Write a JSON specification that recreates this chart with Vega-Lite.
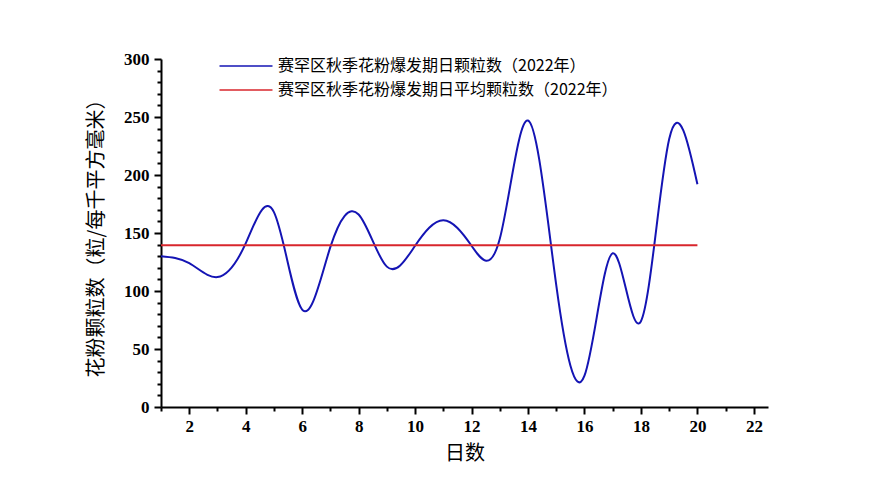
{
  "$schema": "https://vega.github.io/schema/vega-lite/v6.json",
  "autosize": "none",
  "width": 607,
  "height": 348,
  "padding": {"left": 161, "top": 59, "right": 125, "bottom": 83},
  "background": "white",
  "config": {
    "view": {"stroke": null},
    "axis": {
      "domainColor": "black", "domainWidth": 2,
      "tickColor": "black", "tickWidth": 2, "tickSize": 7,
      "grid": false,
      "labelFont": "Liberation Serif", "labelFontWeight": "bold", "labelFontSize": 17, "labelColor": "black",
      "titleFont": "Noto Sans CJK SC", "titleFontWeight": "normal", "titleFontSize": 20, "titleColor": "black",
      "labelFlush": false
    }
  },
  "data": {
    "values": [
      {"day": 1, "value": 130, "series": "赛罕区秋季花粉爆发期日颗粒数（2022年）"},
      {"day": 2, "value": 124, "series": "赛罕区秋季花粉爆发期日颗粒数（2022年）"},
      {"day": 3, "value": 112, "series": "赛罕区秋季花粉爆发期日颗粒数（2022年）"},
      {"day": 4, "value": 141, "series": "赛罕区秋季花粉爆发期日颗粒数（2022年）"},
      {"day": 5, "value": 168, "series": "赛罕区秋季花粉爆发期日颗粒数（2022年）"},
      {"day": 6, "value": 84, "series": "赛罕区秋季花粉爆发期日颗粒数（2022年）"},
      {"day": 7, "value": 138, "series": "赛罕区秋季花粉爆发期日颗粒数（2022年）"},
      {"day": 8, "value": 166, "series": "赛罕区秋季花粉爆发期日颗粒数（2022年）"},
      {"day": 9, "value": 121, "series": "赛罕区秋季花粉爆发期日颗粒数（2022年）"},
      {"day": 10, "value": 139, "series": "赛罕区秋季花粉爆发期日颗粒数（2022年）"},
      {"day": 11, "value": 161, "series": "赛罕区秋季花粉爆发期日颗粒数（2022年）"},
      {"day": 12, "value": 139, "series": "赛罕区秋季花粉爆发期日颗粒数（2022年）"},
      {"day": 13, "value": 145, "series": "赛罕区秋季花粉爆发期日颗粒数（2022年）"},
      {"day": 14, "value": 247, "series": "赛罕区秋季花粉爆发期日颗粒数（2022年）"},
      {"day": 15, "value": 105, "series": "赛罕区秋季花粉爆发期日颗粒数（2022年）"},
      {"day": 16, "value": 27, "series": "赛罕区秋季花粉爆发期日颗粒数（2022年）"},
      {"day": 17, "value": 132.5, "series": "赛罕区秋季花粉爆发期日颗粒数（2022年）"},
      {"day": 18, "value": 74, "series": "赛罕区秋季花粉爆发期日颗粒数（2022年）"},
      {"day": 19, "value": 231, "series": "赛罕区秋季花粉爆发期日颗粒数（2022年）"},
      {"day": 20, "value": 192, "series": "赛罕区秋季花粉爆发期日颗粒数（2022年）"},
      {"day": 1, "value": 139.4, "series": "赛罕区秋季花粉爆发期日平均颗粒数（2022年）"},
      {"day": 20, "value": 139.4, "series": "赛罕区秋季花粉爆发期日平均颗粒数（2022年）"}
    ]
  },
  "resolve": {"axis": {"x": "independent", "y": "independent"}},
  "layer": [
    {
      "mark": {"type": "line", "interpolate": "natural", "strokeWidth": 2},
      "encoding": {
        "x": {
          "field": "day", "type": "quantitative",
          "scale": {"domain": [1, 22.5], "nice": false, "zero": false},
          "axis": {"orient": "bottom", "values": [2, 4, 6, 8, 10, 12, 14, 16, 18, 20, 22], "title": "日数", "titlePadding": 9, "labelPadding": 4}
        },
        "y": {
          "field": "value", "type": "quantitative",
          "scale": {"domain": [0, 300], "nice": false},
          "axis": {"orient": "left", "values": [0, 50, 100, 150, 200, 250, 300], "title": "花粉颗粒数（粒/每千平方毫米）", "titlePadding": 17, "labelPadding": 5}
        },
        "color": {
          "field": "series", "type": "nominal",
          "scale": {
            "domain": ["赛罕区秋季花粉爆发期日颗粒数（2022年）", "赛罕区秋季花粉爆发期日平均颗粒数（2022年）"],
            "range": ["#1414b4", "#d8262c"]
          },
          "legend": {
            "orient": "none", "legendX": 77, "legendY": -1,
            "title": null, "padding": 0,
            "symbolType": "M-6,0H6", "symbolSize": 78, "symbolStrokeWidth": 1.6,
            "labelFont": "Noto Sans CJK SC", "labelFontSize": 16, "labelColor": "black",
            "labelOffset": 24, "rowPadding": 8, "labelLimit": 600
          }
        }
      }
    },
    {
      "mark": {"type": "point", "opacity": 0},
      "encoding": {
        "x": {
          "field": "day", "type": "quantitative",
          "axis": {"orient": "bottom", "values": [1, 3, 5, 7, 9, 11, 13, 15, 17, 19, 21], "labels": false, "domain": false, "tickSize": 4, "title": null}
        },
        "y": {
          "field": "value", "type": "quantitative",
          "axis": {"orient": "left", "values": [10, 20, 30, 40, 60, 70, 80, 90, 110, 120, 130, 140, 160, 170, 180, 190, 210, 220, 230, 240, 260, 270, 280, 290], "labels": false, "domain": false, "tickSize": 4, "title": null}
        }
      }
    }
  ]
}
